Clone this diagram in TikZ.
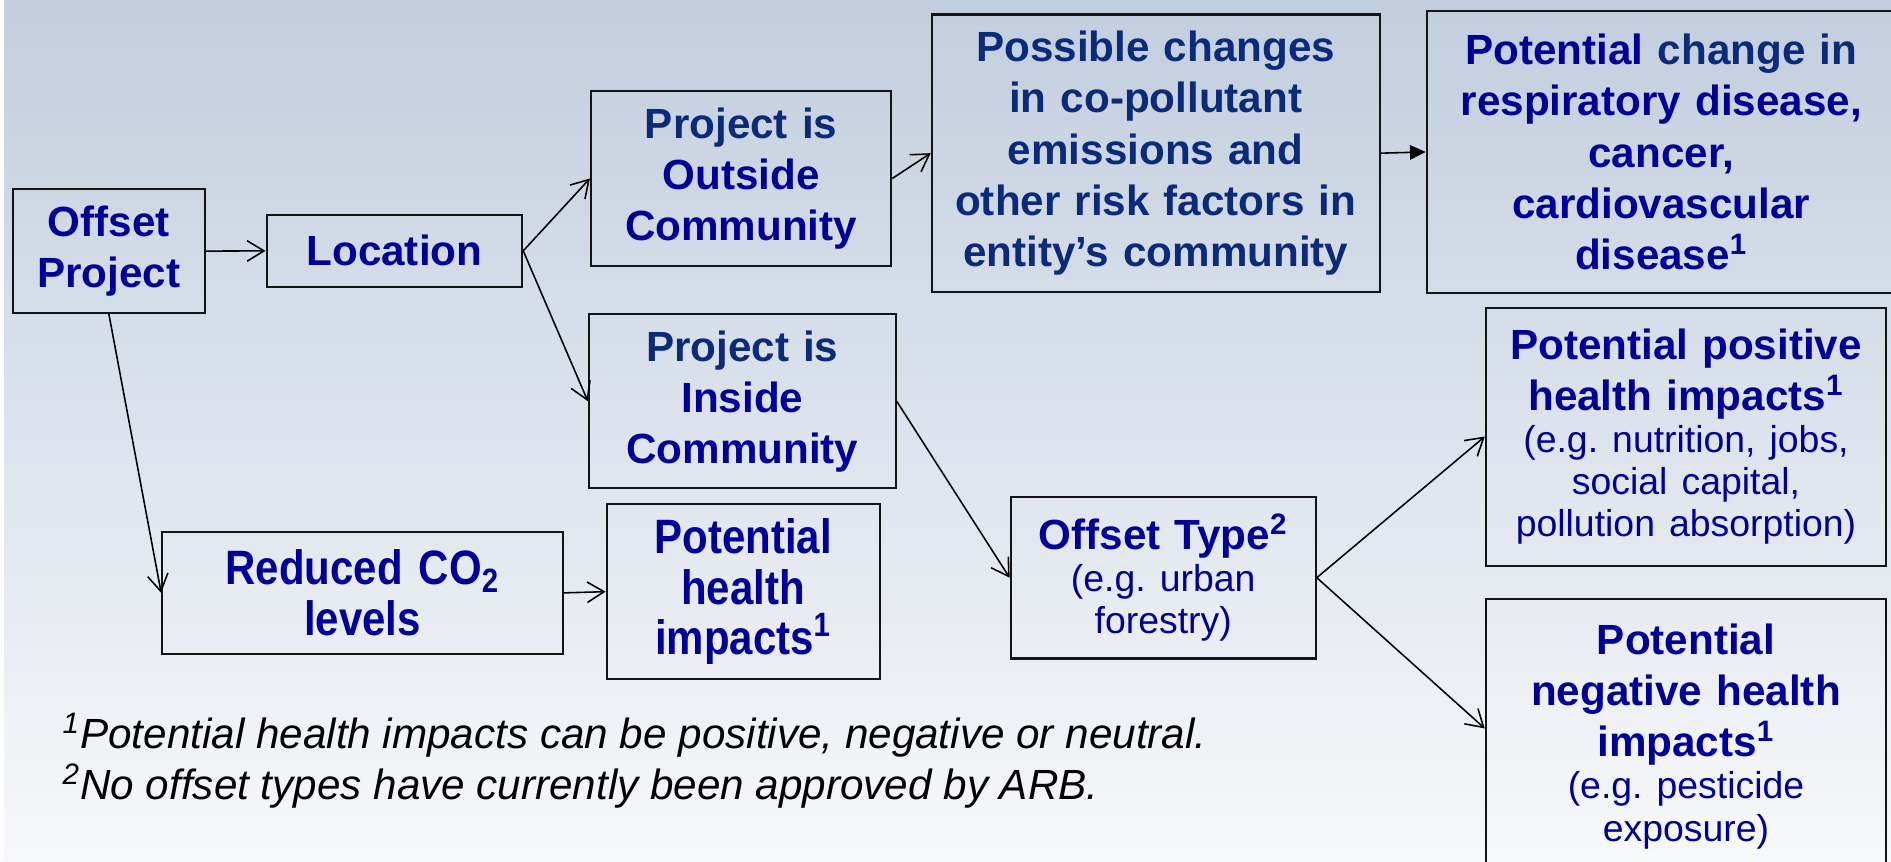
\documentclass[tikz,border=0pt]{standalone}
\usepackage{fontspec}
\setmainfont{Liberation Sans}
\newfontfamily\narrowfont[FakeStretch=0.87]{Liberation Sans}
\usetikzlibrary{arrows.meta,calc}
\setlength{\parindent}{0pt}
\frenchspacing
\definecolor{bright}{RGB}{0,0,153}
\definecolor{navy}{RGB}{12,42,122}
\definecolor{bgtop}{RGB}{194,206,222}
\definecolor{bgbot}{RGB}{247,248,250}
\definecolor{edge}{RGB}{20,20,20}
\newcommand\bfnt{\fontsize{17.5}{21.2}\selectfont\bfseries}
\newcommand\smfnt{\fontsize{15.5}{17.5}\selectfont\mdseries}
\newcommand\nfnt{\narrowfont\fontsize{20}{21}\selectfont\bfseries}
\tikzset{
  box/.style={draw=edge, line width=0.85pt, inner sep=0pt, align=center, text=bright, font=\bfnt},
  sz/.style 2 args={minimum width=#1, text width=#1, minimum height=#2},
  conn/.style={draw=black, line width=0.65pt, -{Straight Barb[length=7pt,width=8.5pt,line width=0.65pt]}},
  connfill/.style={draw=black, line width=0.65pt, -{Triangle[length=6.5pt,width=6pt]}},
  fn/.style={anchor=base west, inner sep=0pt, font=\fontsize{17.5}{21}\selectfont\itshape, text=black}
}
\begin{document}
\begin{tikzpicture}[x=0.5pt,y=-0.5pt]
\useasboundingbox (0,0) rectangle (1568,714);
\clip (0,0) rectangle (1568,714);
\shade[top color=bgtop, bottom color=bgbot] (0,0) rectangle (1568,714);
\fill[white] (0,0) rectangle (3,714);

\node[box, sz={79.75pt}{51.2pt}] (op) at (90.25,208.2) {Offset\\Project};
\node[box, sz={106pt}{29.7pt}] (loc) at (327,208) {Location};
\node[box, sz={124.5pt}{72.6pt}] (out) at (614.5,148) {\textcolor{navy}{Project is}\\Outside\\Community};
\node[box, sz={185.7pt}{115pt}, text=navy] (cop) at (958.3,127) {Possible changes\\in co-pollutant\\emissions and\\other risk factors in\\entity’s community};
\node[box, sz={194.5pt}{117.1pt}] (resp) at (1377.5,126) {Potential \textcolor{navy}{change in}\\respiratory disease,\\cancer,\\cardiovascular\\disease\textsuperscript{1}};
\node[box, sz={127.2pt}{72.3pt}] (ins) at (615.5,332.7) {\textcolor{navy}{Project is}\\Inside\\Community};
\node[box, sz={166.1pt}{50.7pt}, font=\nfnt] (red) at (300.6,491.6) {Reduced CO\textsubscript{2}\\levels};
\node[box, sz={113.2pt}{72.4pt}, font=\nfnt] (phi) at (616.2,490.6) {Potential\\health\\impacts\textsuperscript{1}};
\node[box, sz={126.5pt}{67pt}] (typ) at (964.5,479) {Offset Type\textsuperscript{2}\par\smfnt (e.g. urban\\forestry)\par};
\node[box, sz={166pt}{107pt}] (posi) at (1398,362) {Potential positive\\health impacts\textsuperscript{1}\par\smfnt (e.g. nutrition, jobs,\\social capital,\\pollution absorption)\par};
\node[box, sz={166pt}{113.5pt}] (neg) at (1398,610.5) {Potential\\negative health\\impacts\textsuperscript{1}\par\smfnt (e.g. pesticide\\exposure)\par};

\node[fn] (fn1) at (51.6,621) {\textsuperscript{1}Potential health impacts can be positive, negative or neutral.};
\node[fn] (fn2) at (51.6,663) {\textsuperscript{2}No offset types have currently been approved by ARB.};

\draw[conn] (op.east) -- (loc.west);
\draw[conn] (loc.east) -- (out.west);
\draw[conn] (loc.east) -- (ins.west);
\draw[conn] (out.east) -- (cop.west);
\draw[connfill] (cop.east) -- (resp.west);
\draw[conn] (op.south) -- (red.west);
\draw[conn] (red.east) -- (phi.west);
\draw[conn] (ins.east) -- (typ.west);
\draw[conn] (typ.east) -- (posi.west);
\draw[conn] (typ.east) -- ([yshift=3.25pt]neg.west);
\end{tikzpicture}
\end{document}
